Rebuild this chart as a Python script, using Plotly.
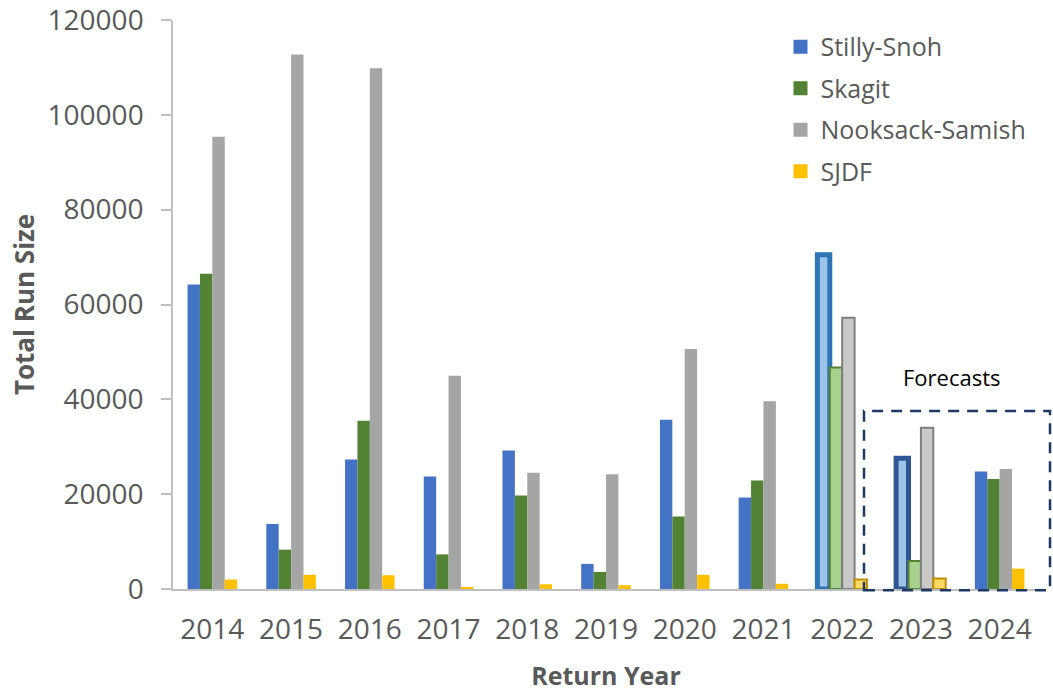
import plotly.graph_objects as go

years = ["2014", "2015", "2016", "2017", "2018", "2019", "2020", "2021", "2022", "2023", "2024"]
stilly_snoh = [64200, 13700, 27300, 23700, 29200, 5300, 35700, 19300, 70500, 27600, 24800]
skagit = [66500, 8300, 35500, 7300, 19700, 3600, 15300, 22900, 46700, 5900, 23200]
nooksack_samish = [95400, 112700, 109800, 45000, 24500, 24200, 50600, 39600, 57200, 34000, 25300]
sjdf = [2000, 3000, 2900, 400, 1000, 800, 3000, 1100, 2000, 2200, 4300]
y_ticks = [0, 20000, 40000, 60000, 80000, 100000, 120000]

highlight = {"2022", "2023"}

def styles(base, light, edge, edge_w, special_edges=None):
    fills, lines, widths = [], [], []
    for i, y in enumerate(years):
        if y in highlight:
            fills.append(light)
            lines.append(special_edges[y] if special_edges else edge)
            widths.append(edge_w)
        else:
            fills.append(base)
            lines.append(base)
            widths.append(0)
    return fills, lines, widths

series = [
    ("Stilly-Snoh", stilly_snoh, styles("#4472C4", "#9DC3E6", "#2E75B6", 5,
                                        {"2022": "#2E75B6", "2023": "#2F5597"})),
    ("Skagit", skagit, styles("#548235", "#A9D18E", "#548235", 2)),
    ("Nooksack-Samish", nooksack_samish, styles("#A5A5A5", "#C9C9C9", "#7F7F7F", 2)),
    ("SJDF", sjdf, styles("#FFC000", "#FFD966", "#BF9000", 2)),
]

fig = go.Figure()
for i, (name, vals, (fills, lines, widths)) in enumerate(series):
    fig.add_trace(go.Bar(
        x=years, y=vals, name=name, legendgroup=name,
        marker=dict(color=fills, line=dict(color=lines, width=widths)),
    ))

font_family = "Open Sans"
grey_txt = "#595959"

fig.update_layout(
    width=1053, height=692,
    margin=dict(l=173, r=14, t=20, b=103),
    paper_bgcolor="white", plot_bgcolor="white",
    barmode="group", bargap=0.37, bargroupgap=0,
    font=dict(family=font_family, color=grey_txt),
    showlegend=True,
    legend=dict(x=0.7015, y=0.993, xanchor="left", yanchor="top",
                font=dict(size=25, color=grey_txt, family=font_family),
                bgcolor="rgba(0,0,0,0)", tracegroupgap=6, itemsizing="constant"),
    xaxis=dict(
        type="category", showline=True, linecolor="#BFBFBF", linewidth=1.5,
        ticks="", tickfont=dict(size=28, color=grey_txt), ticklabelstandoff=15,
        title=dict(text="<b>Return Year</b>", font=dict(size=25, color=grey_txt), standoff=22),
        showgrid=False, zeroline=False, automargin=False,
    ),
    yaxis=dict(
        range=[0, 120000], tickvals=y_ticks, ticktext=[str(v) for v in y_ticks],
        showline=True, linecolor="#BFBFBF", linewidth=1.5,
        ticks="outside", ticklen=10, tickcolor="#BFBFBF", tickwidth=1.5,
        tickfont=dict(size=28, color=grey_txt), ticklabelstandoff=12,
        ticklabeloverflow="allow",
        title=dict(text="<b>Total Run Size</b>", font=dict(size=26, color=grey_txt), standoff=5),
        showgrid=False, zeroline=False, automargin=False,
    ),
)

fig.add_shape(type="rect", xref="paper", yref="paper",
              x0=(864 - 173) / 866, x1=(1050 - 173) / 866,
              y0=-0.002, y1=(589 - 411) / 569,
              line=dict(color="#203864", width=2.5, dash="11px,8px"),
              fillcolor="rgba(0,0,0,0)", layer="above")

fig.add_annotation(x=9.4, y=44700, xref="x", yref="y", text="Forecasts",
                   showarrow=False, font=dict(size=22, color="black", family=font_family))

fig.write_html("out.html", config={"displayModeBar": False},
               post_script="document.body.style.margin='0px';")
